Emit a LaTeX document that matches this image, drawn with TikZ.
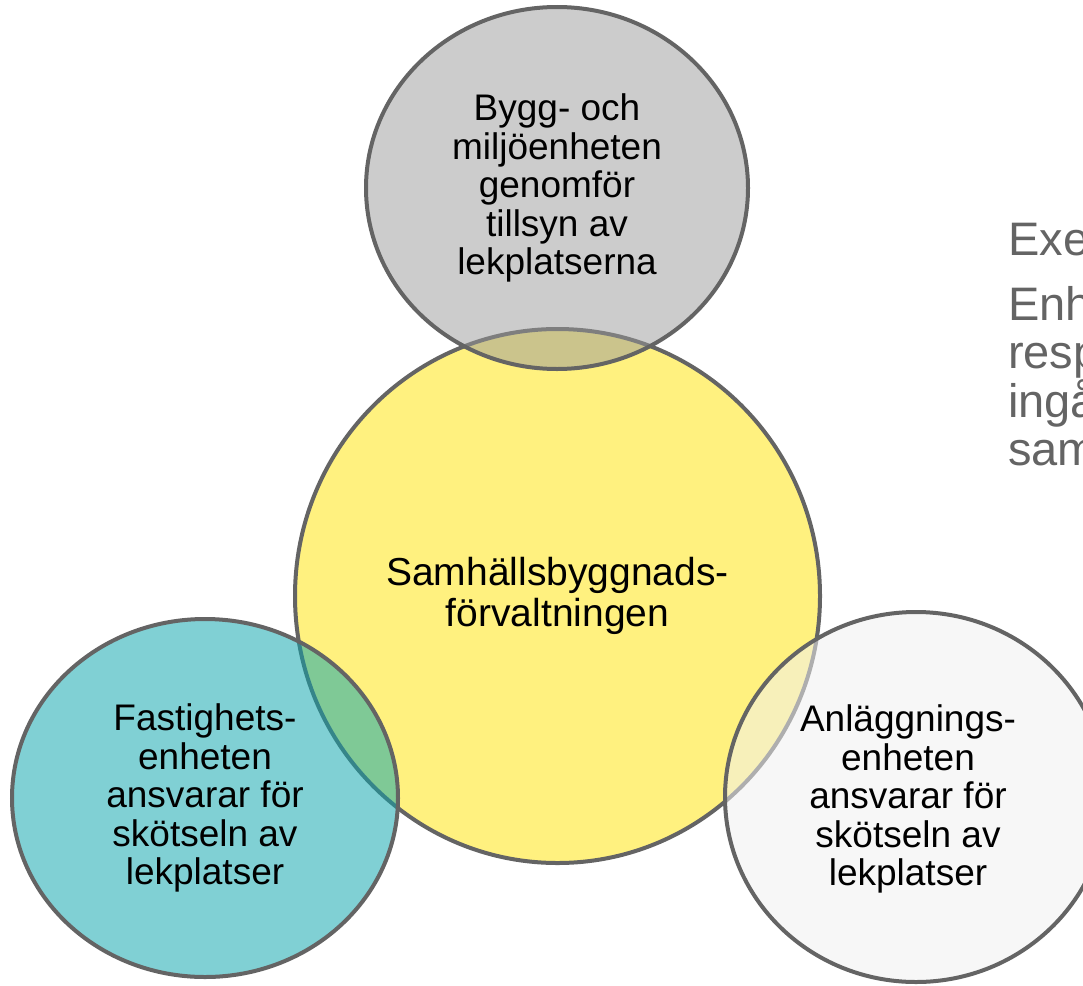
\documentclass[tikz,border=0pt]{standalone}
\usepackage{fontspec}
\setmainfont{Liberation Sans}
\usetikzlibrary{shapes.geometric}
\definecolor{linegray}{RGB}{100,100,100}
\definecolor{notegray}{RGB}{100,100,100}
\definecolor{sbfyellow}{RGB}{255,241,127}
\definecolor{byggray}{RGB}{153,153,153}
\definecolor{fastteal}{RGB}{11,165,172}
\definecolor{anlwhite}{RGB}{240,240,240}
\tikzset{
  unit/.style={ellipse, draw=linegray, line width=4pt, text opacity=1, align=center,
    inner sep=0pt, font=\fontsize{37}{38.5}\selectfont},
  note/.style={anchor=base west, inner sep=0pt, text=notegray, font=\fontsize{47}{48.6}\selectfont}
}
\begin{document}
\begin{tikzpicture}[x=1pt,y=-1pt]
\useasboundingbox (0,0) rectangle (1083,985);
\node[unit, fill=sbfyellow, minimum width=525, minimum height=534, font=\fontsize{39}{40.4}\selectfont] (sbf) at (557.5,596) {Samhällsbyggnads-\\förvaltningen};
\node[unit, fill=byggray, fill opacity=0.5, minimum width=382, minimum height=362] (bygg) at (557,188) {Bygg- och\\miljöenheten\\genomför\\tillsyn av\\lekplatserna};
\node[unit, fill=fastteal, fill opacity=0.52, minimum width=386, minimum height=358] (fast) at (205,798) {Fastighets-\\enheten\\ansvarar för\\skötseln av\\lekplatser};
\node[unit, fill=anlwhite, fill opacity=0.53, minimum width=382, minimum height=370] (anl) at (916,797) {};
\node[align=center, inner sep=0pt, font=\fontsize{37}{38.5}\selectfont] (anltext) at (908,799) {Anläggnings-\\enheten\\ansvarar för\\skötseln av\\lekplatser};
\node[note] (exe) at (1008,255) {Exe};
\foreach \word [count=\i] in {Enh,resp,ingå,sam}
  \node[note] (note\i) at (1008,{320+48.6*(\i-1)}) {\word};
\end{tikzpicture}
\end{document}
